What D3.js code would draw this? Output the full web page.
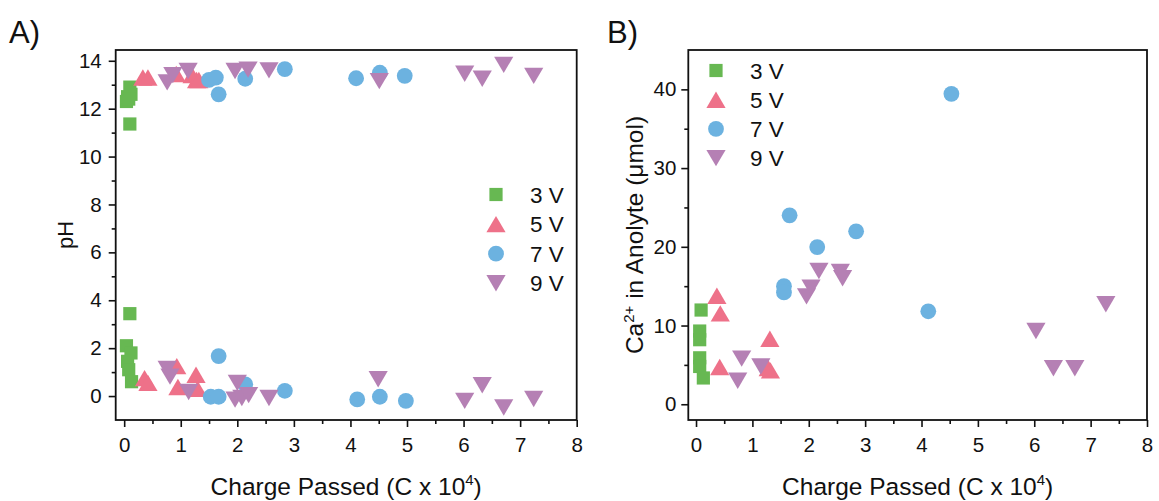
<!DOCTYPE html>
<html><head><meta charset="utf-8">
<script src="https://cdn.jsdelivr.net/npm/d3@7"></script>
<style>
body{margin:0;background:#fff;}
text{font-family:"Liberation Sans",Arial,sans-serif;fill:#111;}
</style></head>
<body>
<svg id="chart" width="1159" height="501"></svg>
<script>
// ---------- DATA ----------
const seriesNames = ["3 V", "5 V", "7 V", "9 V"];
const seriesColors = ["#67b852", "#ee7189", "#6cb2e0", "#b580b4"];
const seriesShapes = ["square", "triangleUp", "circle", "triangleDown"];

// Panel A: pH vs charge passed (C x 10^4)
const phA_3V = [[0.04,12.3],[0.06,12.5],[0.12,12.6],[0.1,12.9],[0.08,12.4],[0.1,11.36],
                [0.1,3.44],[0.04,2.1],[0.12,1.8],[0.06,1.45],[0.08,1.1],[0.13,0.6]];
const phA_5V = [[0.33,13.3],[0.42,13.3],[0.92,13.45],[1.2,13.4],[1.28,13.2],[1.32,13.2],
                [0.36,0.75],[0.42,0.55],[0.93,1.25],[0.95,0.38],[1.27,0.89],[1.3,0.3]];
const phA_7V = [[1.5,13.2],[1.62,13.3],[1.67,12.6],[2.14,13.25],[2.84,13.65],[4.1,13.27],[4.52,13.5],[4.96,13.37],
                [1.53,-0.03],[1.67,-0.03],[1.67,1.67],[2.14,0.49],[2.84,0.22],[4.12,-0.14],[4.52,-0.03],[4.98,-0.2]];
const phA_9V = [[0.76,13.1],[0.86,13.4],[1.13,13.57],[1.96,13.57],[2.19,13.63],[2.56,13.6],[4.51,13.15],[6.02,13.46],[6.33,13.25],[6.71,13.83],[7.24,13.37],
                [0.76,1.13],[0.81,0.81],[1.14,0.17],[2.0,0.55],[1.96,-0.15],[2.08,-0.08],[2.2,0.04],[2.56,-0.08],[4.49,0.7],[6.02,-0.2],[6.33,0.45],[6.71,-0.48],[7.24,-0.12]];

// Panel B: Ca2+ in anolyte (umol) vs charge passed
const caB_3V = [[0.09,11.97],[0.065,9.3],[0.065,8.2],[0.065,5.9],[0.065,4.8],[0.13,3.34]];
const caB_5V = [[0.37,13.78],[0.43,11.55],[0.42,4.73],[1.31,8.33],[1.28,4.6],[1.32,4.3]];
const caB_7V = [[1.56,15.0],[1.56,14.2],[1.66,24.0],[2.15,19.97],[2.84,21.97],[4.12,11.81],[4.53,39.43]];
const caB_9V = [[0.81,5.8],[0.74,2.98],[1.15,4.8],[1.96,13.7],[2.04,14.8],[2.18,16.93],[2.56,16.8],[2.6,16.0],[6.03,9.31],[6.34,4.57],[6.72,4.57],[7.27,12.7]];

const xTicks = [0,1,2,3,4,5,6,7,8];
const yTicksA = [0,2,4,6,8,10,12,14];
const yTicksB = [0,10,20,30,40];

// ---------- DRAW ----------
const svg = d3.select("#chart");

function symbolPath(shape){
  if(shape==="square"){const s=6.6;return `M${-s},${-s}H${s}V${s}H${-s}Z`;}
  if(shape==="circle"){const r=7.9;return `M${r},0A${r},${r} 0 1,1 ${-r},0A${r},${r} 0 1,1 ${r},0Z`;}
  if(shape==="triangleUp"){const w=9.6,h=8.2;return `M0,${-h}L${w},${h}L${-w},${h}Z`;}
  if(shape==="triangleDown"){const w=9.6,h=8.2;return `M0,${h}L${w},${-h}L${-w},${-h}Z`;}
}

function panel(cfg){
  const g = svg.append("g");
  const x = d3.scaleLinear().domain(cfg.xDomain).range(cfg.xRange);
  const y = d3.scaleLinear().domain(cfg.yDomain).range(cfg.yRange);
  const [x0,x1]=cfg.xRange,[y0,y1]=cfg.yRange;

  const xAxis = d3.axisBottom(x).tickValues(cfg.xTicks).tickSize(7).tickPadding(10).tickFormat(d3.format("d"));
  const gx = g.append("g").attr("transform",`translate(0,${y0})`).call(xAxis);
  const xMinor = d3.axisBottom(x).tickValues(cfg.xTicks.slice(0,-1).map(d=>d+0.5)).tickSize(4).tickFormat("");
  const gxm = g.append("g").attr("transform",`translate(0,${y0})`).call(xMinor);
  const yAxis = d3.axisLeft(y).tickValues(cfg.yTicks).tickSize(7).tickPadding(cfg.yPad).tickFormat(d3.format("d"));
  const gy = g.append("g").attr("transform",`translate(${x0},0)`).call(yAxis);
  const step = cfg.yTicks[1]-cfg.yTicks[0];
  const yMinor = d3.axisLeft(y).tickValues(cfg.yTicks.slice(0,-1).map(d=>d+step/2)).tickSize(4).tickFormat("");
  const gym = g.append("g").attr("transform",`translate(${x0},0)`).call(yMinor);
  [gx,gxm,gy,gym].forEach(a=>{
    a.select(".domain").remove();
    a.selectAll(".tick line").attr("stroke","#111").attr("stroke-width",1.6);
    a.selectAll(".tick text").attr("font-size",20.5).attr("font-family","Liberation Sans, Arial, sans-serif").attr("fill","#111");
  });

  cfg.series.forEach((data,i)=>{
    g.append("g").selectAll("path").data(data).join("path")
      .attr("d",symbolPath(seriesShapes[i]))
      .attr("transform",d=>`translate(${x(d[0])},${y(d[1])})`)
      .attr("fill",seriesColors[i]);
  });

  g.append("rect").attr("x",x0).attr("y",y1).attr("width",x1-x0).attr("height",y0-y1)
    .attr("fill","none").attr("stroke","#111").attr("stroke-width",1.8);

  seriesNames.forEach((n,i)=>{
    const ly = cfg.legend.y + i*cfg.legend.step;
    g.append("path").attr("d",symbolPath(seriesShapes[i])).attr("fill",seriesColors[i])
      .attr("transform",`translate(${cfg.legend.mx},${ly})`);
    g.append("text").attr("x",cfg.legend.tx).attr("y",ly).attr("dy","0.36em")
      .attr("font-size",22.5).text(n);
  });

  const xt = g.append("text").attr("x",(x0+x1)/2).attr("y",cfg.xTitleY).attr("text-anchor","middle").attr("font-size",24.5);
  xt.append("tspan").text("Charge Passed (C x 10");
  xt.append("tspan").attr("font-size",15).attr("dy",-10).text("4");
  xt.append("tspan").attr("dy",10).text(")");

  const yt = g.append("text").attr("transform",`translate(${cfg.yTitleX},${(y0+y1)/2}) rotate(-90)`)
    .attr("text-anchor","middle").attr("font-size",cfg.yTitleSize);
  cfg.yTitle(yt);

  g.append("text").attr("x",cfg.tag[0]).attr("y",cfg.tag[1]).attr("font-size",31).text(cfg.tagText);
}

panel({
  xDomain:[-0.15,8], xRange:[115.7,576.7],
  yDomain:[-1,14.45], yRange:[420,50],
  xTicks:xTicks, yTicks:yTicksA, yPad:7,
  series:[phA_3V,phA_5V,phA_7V,phA_9V],
  legend:{mx:496,tx:530,y:194.5,step:29.6},
  xTitleY:495, yTitleX:73, yTitleSize:22,
  yTitle:t=>t.text("pH"),
  tag:[9,43], tagText:"A)"
});

panel({
  xDomain:[-0.137,8], xRange:[688.3,1147],
  yDomain:[-2,45], yRange:[420,50],
  xTicks:xTicks, yTicks:yTicksB, yPad:5,
  series:[caB_3V,caB_5V,caB_7V,caB_9V],
  legend:{mx:716,tx:750,y:70.5,step:29.2},
  xTitleY:495, yTitleX:643, yTitleSize:24.5,
  yTitle:t=>{t.append("tspan").text("Ca");t.append("tspan").attr("font-size",15).attr("dy",-9).text("2+");
             t.append("tspan").attr("dy",9).text(" in Anolyte (μmol)");},
  tag:[607,43], tagText:"B)"
});
</script>
</body></html>
